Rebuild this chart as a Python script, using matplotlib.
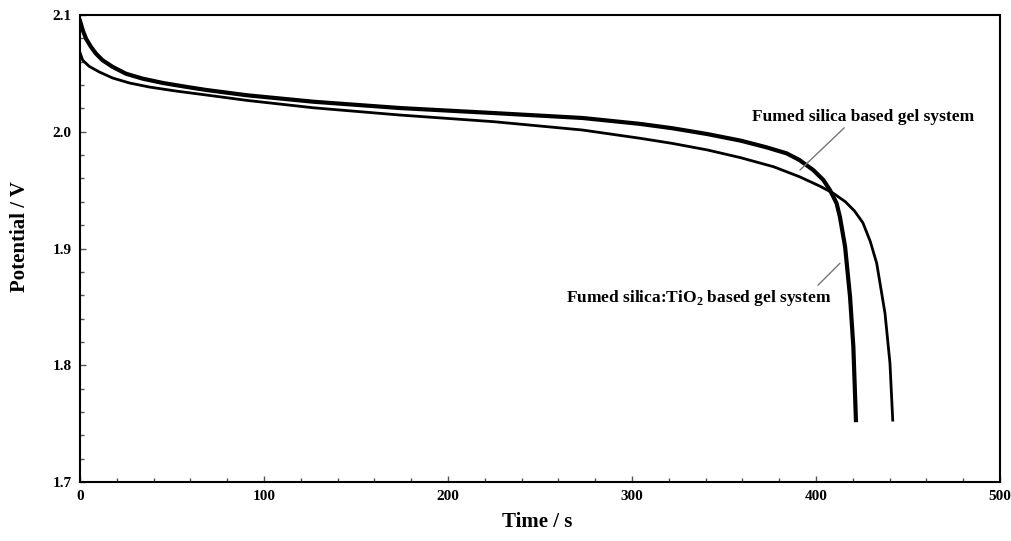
import matplotlib
matplotlib.use("Agg")
import matplotlib.pyplot as plt
from matplotlib.ticker import MultipleLocator, FormatStrFormatter

# ---- data ----
fumed_time = [0, 1.5, 3.3, 6, 8.7, 12.3, 17.8, 25, 34, 45, 57.6, 68.5, 91, 127,
              174, 225, 273, 304, 322, 341, 359, 373, 384, 391, 398.5, 404, 407.6,
              411.2, 413, 415.8, 418.5, 420.3, 421.7]
fumed_volt = [2.095, 2.0869, 2.0797, 2.0726, 2.0669, 2.0612, 2.0555, 2.0497, 2.0455,
              2.0418, 2.0385, 2.0358, 2.0312, 2.0257, 2.0203, 2.016, 2.0118, 2.0068,
              2.003, 1.998, 1.9924, 1.9867, 1.9815, 1.9758, 1.9672, 1.9587, 1.950,
              1.9387, 1.927, 1.9016, 1.8587, 1.8159, 1.753]

tio2_time = [0, 1.5, 5, 10.5, 17.8, 26.8, 37.7, 52, 68.5, 91, 127, 174, 225, 273,
             304, 322, 341, 359, 377, 391, 402, 409.4, 416, 421, 425.5, 429.5, 433,
             437.5, 440.2, 441.7]
tio2_volt = [2.0677, 2.0612, 2.056, 2.0512, 2.046, 2.0418, 2.0383, 2.0349, 2.0315,
             2.0268, 2.0205, 2.0143, 2.0086, 2.0015, 1.9945, 1.990, 1.9844, 1.9778,
             1.970, 1.9615, 1.9535, 1.9473, 1.940, 1.932, 1.922, 1.906, 1.8873,
             1.8445, 1.8017, 1.753]

label_fumed = "Fumed silica based gel system"
label_tio2 = r"Fumed silica:TiO$_\mathregular{2}$ based gel system"

plt.rcParams['font.family'] = ['Liberation Serif', 'DejaVu Serif']
plt.rcParams['font.weight'] = 'bold'
plt.rcParams['mathtext.fontset'] = 'custom'
plt.rcParams['mathtext.rm'] = 'Liberation Serif:bold'
plt.rcParams['mathtext.bf'] = 'Liberation Serif:bold'

fig = plt.figure(figsize=(10.11, 5.41), dpi=100)
ax = fig.add_axes([80/1011, 1-482/541, 920/1011, 467/541])

ax.plot(fumed_time, fumed_volt, color='black', lw=3.0, solid_joinstyle='round')
ax.plot(tio2_time, tio2_volt, color='black', lw=2.0, solid_joinstyle='round')

ax.set_xlim(0, 500)
ax.set_ylim(1.7, 2.1)
ax.xaxis.set_major_locator(MultipleLocator(100))
ax.xaxis.set_minor_locator(MultipleLocator(20))
ax.yaxis.set_major_locator(MultipleLocator(0.1))
ax.yaxis.set_minor_locator(MultipleLocator(0.02))
ax.yaxis.set_major_formatter(FormatStrFormatter('%.1f'))
ax.tick_params(which='both', direction='in', top=False, right=False,
               labelsize=11, width=1, color='#555555')
ax.tick_params(which='major', length=4, pad=6)
ax.tick_params(which='minor', length=3)
for lab in ax.get_xticklabels() + ax.get_yticklabels():
    lab.set_fontweight('bold')
for s in ax.spines.values():
    s.set_linewidth(1.5)
    s.set_color('black')

ax.set_xlabel("Time / s", fontsize=15, fontweight='bold')
ax.set_ylabel("Potential / V", fontsize=15, fontweight='bold')
ax.xaxis.set_label_coords(0.497, -0.064)
ax.yaxis.set_label_coords(-0.054, 0.525)

ax.annotate(label_fumed, xy=(391.3, 1.9672), xytext=(365, 2.0126),
            fontsize=12.5, fontweight='bold', ha='left', va='center',
            arrowprops=dict(arrowstyle='-', color='#777777', lw=1,
                            shrinkA=0, shrinkB=0, relpos=(0.43, 0.0)))
ax.annotate(label_tio2, xy=(413, 1.8873), xytext=(264, 1.8576),
            fontsize=12.5, fontweight='bold', ha='left', va='center',
            arrowprops=dict(arrowstyle='-', color='#777777', lw=1,
                            shrinkA=0, shrinkB=0, relpos=(0.94, 1.0)))

fig.savefig("out.png", dpi=100)
